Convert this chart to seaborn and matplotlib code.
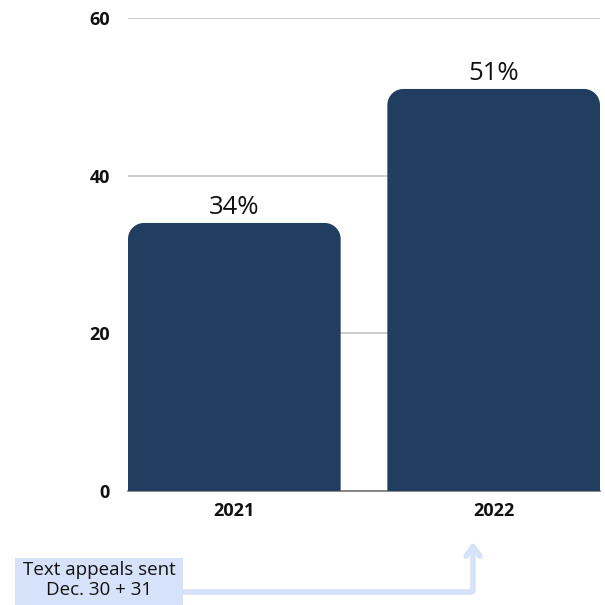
import numpy as np
import pandas as pd
import matplotlib
matplotlib.use("Agg")
import matplotlib.pyplot as plt
import seaborn as sns
from matplotlib.path import Path
from matplotlib.patches import PathPatch, FancyArrowPatch, Rectangle

# data
years = ["2021", "2022"]
shares = [34, 51]
value_labels = ["34%", "51%"]
y_ticks = [0, 20, 40, 60]
note_text = "Text appeals sent\nDec. 30 + 31"

bar_color = "#213e60"
note_color = "#d6e2fa"

sns.set_theme(style="white")
plt.rcParams["font.family"] = ["Open Sans", "DejaVu Sans"]

df = pd.DataFrame({"year": years, "share": shares})

fig = plt.figure(figsize=(6.05, 6.05), dpi=100)
ax = fig.add_axes([128 / 605, 114 / 605, 472 / 605, 473 / 605])

sns.barplot(data=df, x="year", y="share", color=bar_color, width=0.82,
            saturation=1, ax=ax)

ax.set_xlim(-0.41, 1.41)
ax.set_ylim(0, 60)
ax.set_yticks(y_ticks)
ax.set_xlabel("")
ax.set_ylabel("")
ax.yaxis.grid(True, color="#c4c4c4", linewidth=1.2)
ax.set_axisbelow(True)
for s in ["top", "right", "left"]:
    ax.spines[s].set_visible(False)
ax.spines["bottom"].set_color("#777777")
ax.spines["bottom"].set_linewidth(1.2)
ax.tick_params(axis="y", length=0, pad=13, labelsize=13)
ax.tick_params(axis="x", length=0, pad=8, labelsize=13)
for lab in ax.get_xticklabels() + ax.get_yticklabels():
    lab.set_fontweight("bold")
    lab.set_color("#111111")


# swap plain rectangles for bars with rounded top corners
def rounded_top(x0, w, h, rx, ry):
    x1 = x0 + w
    k = 0.5523
    verts = [(x0, 0), (x0, h - ry),
             (x0, h - ry + k * ry), (x0 + rx - k * rx, h), (x0 + rx, h),
             (x1 - rx, h),
             (x1 - rx + k * rx, h), (x1, h - ry + k * ry), (x1, h - ry),
             (x1, 0), (x0, 0)]
    codes = [Path.MOVETO, Path.LINETO,
             Path.CURVE4, Path.CURVE4, Path.CURVE4,
             Path.LINETO,
             Path.CURVE4, Path.CURVE4, Path.CURVE4,
             Path.LINETO, Path.CLOSEPOLY]
    return Path(verts, codes)


radius_px = 16
px_x = 472 / (ax.get_xlim()[1] - ax.get_xlim()[0])
px_y = 473 / 60
for patch, label in zip(list(ax.patches), value_labels):
    x0, w, h = patch.get_x(), patch.get_width(), patch.get_height()
    patch.set_visible(False)
    ax.add_patch(PathPatch(rounded_top(x0, w, h, radius_px / px_x, radius_px / px_y),
                           facecolor=bar_color, edgecolor="none", zorder=3))
    ax.text(x0 + w / 2, h + 0.4, label, ha="center", va="bottom",
            fontsize=18.5, color="#111111", fontweight="normal")

# note box and bent arrow under the axis
fig.patches.append(Rectangle((15 / 605, 0), 168 / 605, 47 / 605,
                             transform=fig.transFigure, facecolor=note_color,
                             edgecolor="none"))
fig.text(99 / 605, 25 / 605, note_text, ha="center", va="center",
         fontsize=13.5, color="#111111", linespacing=1.2)
fig.lines.append(plt.Line2D([183 / 605, 473 / 605], [13 / 605, 13 / 605],
                            transform=fig.transFigure, color=note_color,
                            linewidth=4, solid_capstyle="butt"))
fig.patches.append(FancyArrowPatch((473 / 605, 11 / 605), (473 / 605, 66 / 605),
                                   transform=fig.transFigure,
                                   arrowstyle="->,head_length=7,head_width=5",
                                   color=note_color, linewidth=4))

fig.savefig("out.png", dpi=100)
